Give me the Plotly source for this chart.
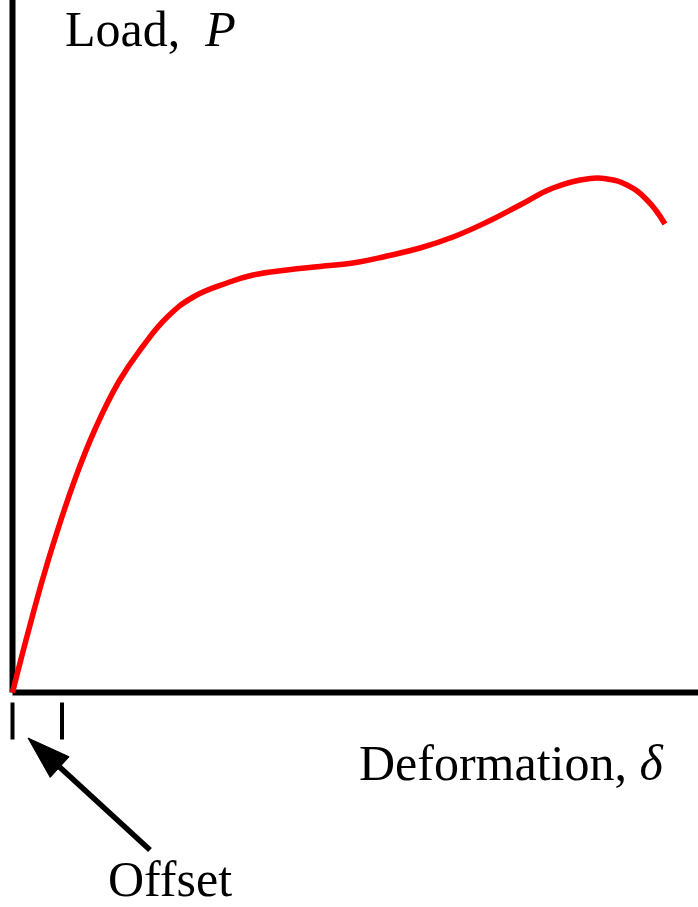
import numpy as np
import plotly.graph_objects as go

# Load–deformation curve (arbitrary units)
deformation = [0.0, 0.17, 0.358, 0.622, 0.822, 1.067, 1.298, 1.548, 1.808, 2.145,
               2.405, 2.745, 3.075, 3.405, 3.745, 4.075, 4.405, 4.745, 5.075, 5.405,
               5.745, 5.945, 6.145, 6.345, 6.525]
load = [0.0, 0.655, 1.325, 2.125, 2.625, 3.115, 3.455, 3.755, 3.955, 4.095,
        4.175, 4.225, 4.26, 4.295, 4.365, 4.445, 4.555, 4.705, 4.875, 5.045,
        5.135, 5.135, 5.075, 4.925, 4.685]

# Offset marked below the deformation axis
offset = 0.495

# Arrow pointing at the offset (tail near the label, tip near the origin)
arrow_tail = (1.375, -1.575)
arrow_tip = (0.155, -0.455)
head_len, head_half = 0.43, 0.14

X_RANGE = [-0.125, 6.855]
Y_RANGE = [-2.145, 6.925]
FONT = "Liberation Serif"

fig = go.Figure()
fig.add_trace(go.Scatter(
    x=deformation, y=load, mode="lines",
    line=dict(color="#ff0000", width=5.5, shape="spline", smoothing=1.3),
    hoverinfo="skip", showlegend=False,
))

# Axes drawn as thick lines from the origin
fig.add_shape(type="line", x0=0, y0=0, x1=0, y1=Y_RANGE[1],
              line=dict(color="black", width=6), layer="below")
fig.add_shape(type="line", x0=0, y0=0, x1=X_RANGE[1], y1=0,
              line=dict(color="black", width=6), layer="below")

# Offset ticks
for xv in (0.0, offset):
    fig.add_shape(type="line", x0=xv, y0=-0.10, x1=xv, y1=-0.47,
                  line=dict(color="black", width=4))

# Arrow: shaft plus a long triangular head
tail = np.array(arrow_tail)
tip = np.array(arrow_tip)
u = (tip - tail) / np.linalg.norm(tip - tail)
n = np.array([-u[1], u[0]])
base = tip - u * head_len
fig.add_shape(type="line", x0=tail[0], y0=tail[1], x1=base[0] + u[0] * 0.05,
              y1=base[1] + u[1] * 0.05, line=dict(color="black", width=5.5))
c1 = base + n * head_half
c2 = base - n * head_half
fig.add_shape(type="path",
              path=f"M {tip[0]},{tip[1]} L {c1[0]},{c1[1]} L {c2[0]},{c2[1]} Z",
              fillcolor="black", line=dict(color="black", width=1))

fig.add_annotation(x=1.575, y=-1.865, xref="x", yref="y", text="Offset",
                   showarrow=False, xanchor="center", yanchor="middle",
                   font=dict(family=FONT, size=50, color="black"))
fig.add_annotation(x=0.505, y=6.635, xref="x", yref="y", text="Load,  <i>P</i>",
                   showarrow=False, xanchor="left", yanchor="middle",
                   font=dict(family=FONT, size=50, color="black"))
fig.add_annotation(x=6.525, y=-0.705, xref="x", yref="y", text="Deformation, <i>δ</i>",
                   showarrow=False, xanchor="right", yanchor="middle",
                   font=dict(family=FONT, size=50, color="black"))

fig.update_xaxes(range=X_RANGE, visible=False, fixedrange=True)
fig.update_yaxes(range=Y_RANGE, visible=False, fixedrange=True)
fig.update_layout(
    width=698, height=907,
    margin=dict(l=0, r=0, t=0, b=0),
    paper_bgcolor="white", plot_bgcolor="white",
)

fig.write_html("out.html")
